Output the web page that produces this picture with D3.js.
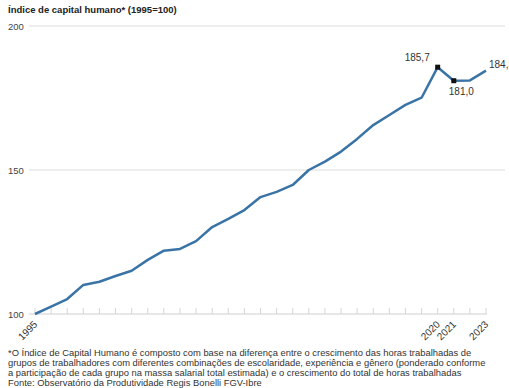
<!DOCTYPE html>
<html>
<head>
<meta charset="utf-8">
<script src="https://cdn.jsdelivr.net/npm/d3@7"></script>
<style>
  body { margin: 0; background: #fff; }
  svg { font-family: "Liberation Sans", Arial, sans-serif; }
</style>
</head>
<body>
<svg id="chart" viewBox="0 0 509 388" width="509" height="388"></svg>
<script>
// data
const years = d3.range(1995, 2024);
const values = [100, 102.6, 105.2, 110.1, 111.2, 113.2, 115.0, 118.8, 122.0, 122.6,
                125.3, 130.2, 133.0, 136.1, 140.6, 142.4, 144.8, 150.0, 152.9, 156.4,
                160.8, 165.6, 169.1, 172.6, 175.1, 185.7, 181.0, 181.1, 184.5];
const yTicks = [100, 150, 200];
const xLabelYears = [1995, 2020, 2021, 2023];
const markedYears = [2020, 2021];
const pointLabels = [
    { year: 2020, text: "185,7", pos: "above" },
    { year: 2021, text: "181,0", pos: "below" },
    { year: 2023, text: "184,5", pos: "right" }
];
const title = "Índice de capital humano* (1995=100)";
const notes = [
    "*O Índice de Capital Humano é composto com base na diferença entre o crescimento das horas trabalhadas de",
    "grupos de trabalhadores com diferentes combinações de escolaridade, experiência e gênero (ponderado conforme",
    "a participação de cada grupo na massa salarial total estimada) e o crescimento do total de horas trabalhadas",
    "Fonte: Observatório da Produtividade Regis Bonelli FGV-Ibre"
];

const svg = d3.select("#chart");
const data = years.map((y, i) => ({ year: y, value: values[i] }));

const x = d3.scaleLinear().domain([1995, 2023]).range([35, 486]);
const y = d3.scaleLinear().domain([100, 200]).range([314, 26]);

// title
svg.append("text")
    .attr("x", 8).attr("y", 13)
    .attr("font-size", 9.5).attr("font-weight", "bold").attr("fill", "#222")
    .text(title);

// gridlines + y labels
const grid = svg.append("g");
grid.selectAll("line")
    .data(yTicks.filter(d => d !== 100))
    .enter().append("line")
    .attr("x1", 29).attr("x2", 505)
    .attr("y1", d => y(d)).attr("y2", d => y(d))
    .attr("stroke", "#dcdcdc").attr("stroke-width", 1);

grid.selectAll("text")
    .data(yTicks)
    .enter().append("text")
    .attr("x", 8).attr("y", d => y(d) + 3.5)
    .attr("font-size", 9.5).attr("fill", "#444")
    .text(d => d);

// x axis: baseline with upward ticks
const xAxis = svg.append("g");
xAxis.append("line")
    .attr("x1", 29).attr("x2", 487)
    .attr("y1", y(100)).attr("y2", y(100))
    .attr("stroke", "#cfcfcf").attr("stroke-width", 1.2);
xAxis.selectAll(".tick")
    .data(years)
    .enter().append("line")
    .attr("class", "tick")
    .attr("x1", d => x(d)).attr("x2", d => x(d))
    .attr("y1", y(100)).attr("y2", y(100) - 6)
    .attr("stroke", "#d5d5d5").attr("stroke-width", 1);

xAxis.selectAll(".xlab")
    .data(xLabelYears)
    .enter().append("text")
    .attr("class", "xlab")
    .attr("text-anchor", "end")
    .attr("font-size", 10).attr("fill", "#333")
    .attr("transform", d => `translate(${x(d) + 3},${y(100) + 11}) rotate(-45)`)
    .text(d => d);

// the line
const line = d3.line().x(d => x(d.year)).y(d => y(d.value));
svg.append("path")
    .datum(data)
    .attr("fill", "none")
    .attr("stroke", "#3a74a6")
    .attr("stroke-width", 2.5)
    .attr("stroke-linejoin", "round")
    .attr("d", line);

// markers
svg.selectAll(".mark")
    .data(data.filter(d => markedYears.includes(d.year)))
    .enter().append("rect")
    .attr("class", "mark")
    .attr("x", d => x(d.year) - 2.5).attr("y", d => y(d.value) - 2.5)
    .attr("width", 5).attr("height", 5)
    .attr("fill", "#111");

// point labels
svg.selectAll(".plab")
    .data(pointLabels)
    .enter().append("text")
    .attr("class", "plab")
    .attr("font-size", 10).attr("fill", "#333")
    .attr("x", d => {
        const px = x(d.year);
        if (d.pos === "above") return px - 33;
        if (d.pos === "below") return px - 5;
        return px + 3;
    })
    .attr("y", d => {
        const py = y(values[years.indexOf(d.year)]);
        if (d.pos === "above") return py - 6;
        if (d.pos === "below") return py + 14;
        return py - 3;
    })
    .text(d => d.text);

// footnotes
svg.append("g").selectAll("text")
    .data(notes)
    .enter().append("text")
    .attr("x", 8).attr("y", (d, i) => 356 + i * 10)
    .attr("font-size", 9.4).attr("fill", "#333")
    .text(d => d);
</script>
</body>
</html>
